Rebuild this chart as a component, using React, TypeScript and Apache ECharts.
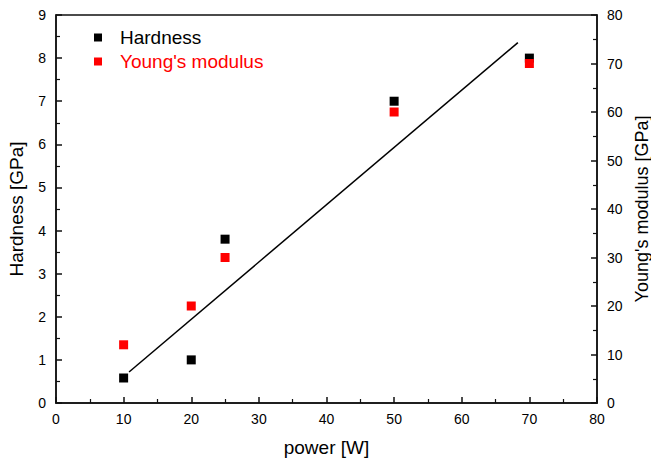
import React, { useEffect, useRef } from "react";
import * as echarts from "echarts";

const powerW = [10, 20, 25, 50, 70];
const hardnessGPa = [0.58, 1.0, 3.8, 7.0, 8.0];
const youngsGPa = [12, 20, 30, 60, 70];
const fitLine = [
  [10.8, 0.72],
  [68.3, 8.36],
];

export default function App() {
  const ref = useRef<HTMLDivElement>(null);
  useEffect(() => {
    if (!ref.current) return;
    const chart = echarts.init(ref.current, null, { renderer: "svg" });
    const font = "'Liberation Sans', Arial, sans-serif";
    const axisLine = { show: true, lineStyle: { color: "#111", width: 1.5 } };
    const common = {
      axisTick: { show: true, inside: true, length: 6, lineStyle: { color: "#111", width: 1.5 } },
      minorTick: { show: true, splitNumber: 2, length: 4, lineStyle: { color: "#111", width: 1.2 } },
      splitLine: { show: false },
      axisLine,
      nameTextStyle: { fontSize: 19, fontFamily: font, color: "#000" },
    };
    chart.setOption({
      animation: false,
      backgroundColor: "#fff",
      grid: {
        left: 56,
        right: 54,
        top: 15,
        bottom: 59,
        show: true,
        borderColor: "#111",
        borderWidth: 1.5,
        containLabel: false,
        outerBoundsMode: "none",
      },
      legend: {
        orient: "vertical",
        left: 89,
        top: 23,
        icon: "rect",
        itemWidth: 8,
        itemHeight: 8,
        itemGap: 5,
        textStyle: { fontSize: 19, fontFamily: font, padding: [0, 0, 0, 13] },
        data: [
          { name: "Hardness", textStyle: { color: "#000" } },
          { name: "Young's modulus", textStyle: { color: "#ff0000" } },
        ],
      },
      xAxis: {
        type: "value",
        min: 0,
        max: 80,
        interval: 10,
        name: "power [W]",
        nameLocation: "middle",
        nameGap: 35,
        ...common,
        axisLabel: { fontSize: 14, fontFamily: font, color: "#000", margin: 9 },
      },
      yAxis: [
        {
          type: "value",
          min: 0,
          max: 9,
          interval: 1,
          name: "Hardness [GPa]",
          nameLocation: "middle",
          nameGap: 30,
          position: "left",
          ...common,
          axisLabel: { fontSize: 14, fontFamily: font, color: "#000", margin: 10 },
        },
        {
          type: "value",
          min: 0,
          max: 80,
          interval: 10,
          name: "Young's modulus [GPa]",
          nameLocation: "middle",
          nameGap: 27,
          position: "right",
          ...common,
          nameTextStyle: { fontSize: 18, fontFamily: font, color: "#000", lineHeight: 18 },
          axisLabel: { fontSize: 14, fontFamily: font, color: "#000", margin: 10 },
        },
      ],
      series: [
        {
          name: "Hardness",
          type: "scatter",
          symbol: "rect",
          symbolSize: 9,
          itemStyle: { color: "#000", opacity: 1 },
          data: powerW.map((x, i) => [x, hardnessGPa[i]]),
          z: 3,
        },
        {
          name: "Young's modulus",
          type: "scatter",
          symbol: "rect",
          symbolSize: 9,
          yAxisIndex: 1,
          itemStyle: { color: "#ff0000", opacity: 1 },
          data: powerW.map((x, i) => [x, youngsGPa[i]]),
          z: 3,
        },
        {
          name: "fit",
          type: "line",
          symbol: "none",
          lineStyle: { color: "#000", width: 1.5 },
          data: fitLine,
          z: 2,
        },
      ],
    });
    return () => chart.dispose();
  }, []);
  return (
    <div
      ref={ref}
      style={{ position: "fixed", left: 0, top: 0, width: 651, height: 462 }}
    />
  );
}
